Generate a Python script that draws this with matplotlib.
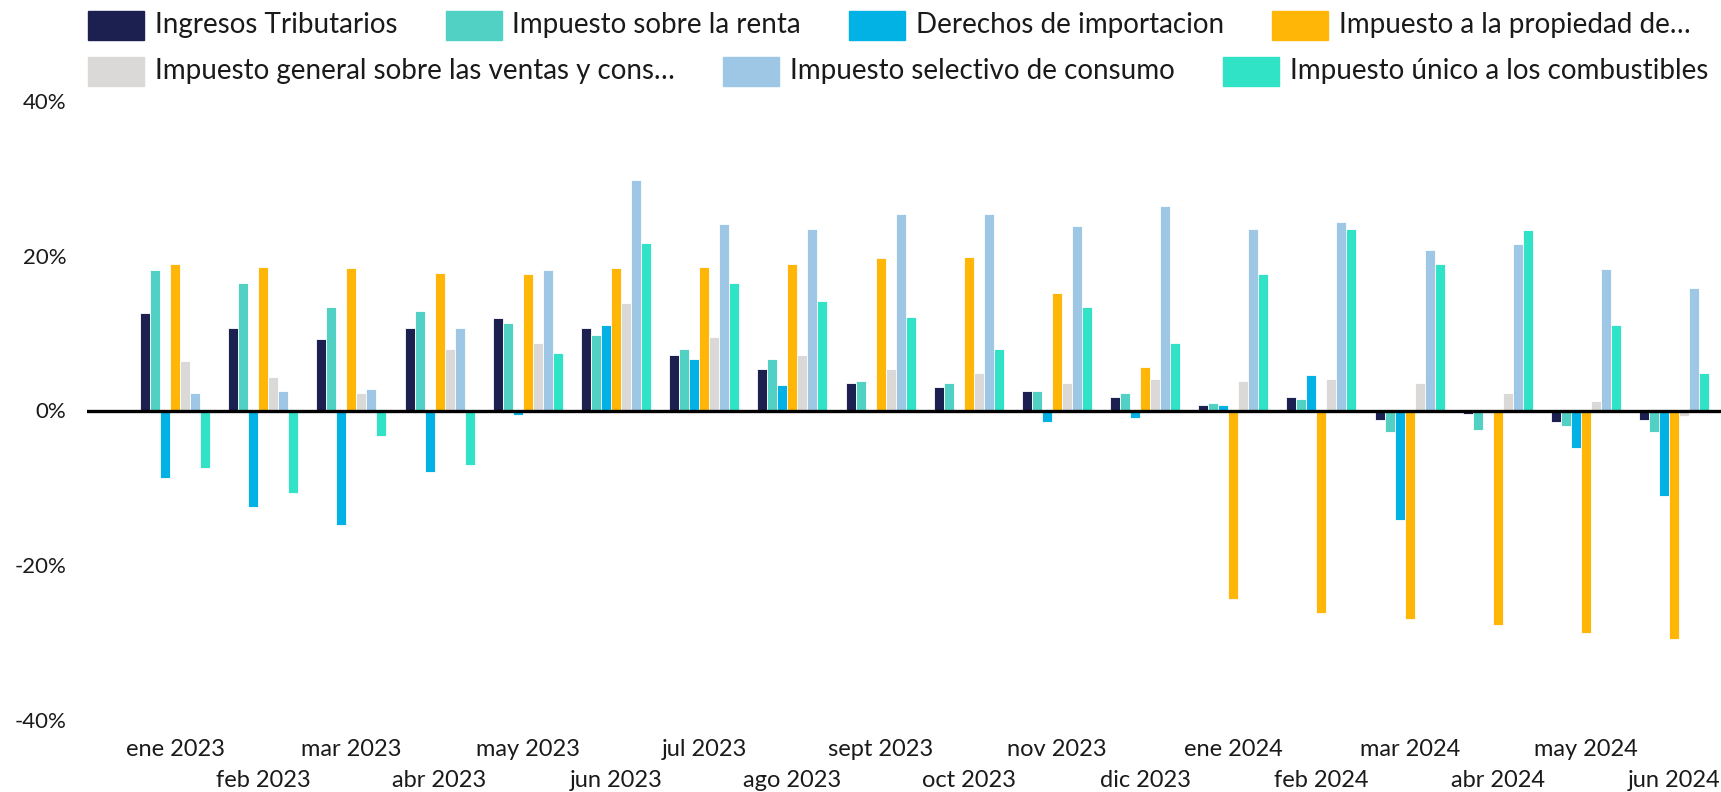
import matplotlib
matplotlib.use("Agg")
import matplotlib.pyplot as plt
from matplotlib.patches import Rectangle
import numpy as np

plt.rcParams['font.family'] = ['Lato', 'DejaVu Sans']

months = ["ene 2023", "feb 2023", "mar 2023", "abr 2023", "may 2023", "jun 2023",
          "jul 2023", "ago 2023", "sept 2023", "oct 2023", "nov 2023", "dic 2023",
          "ene 2024", "feb 2024", "mar 2024", "abr 2024", "may 2024", "jun 2024"]

series_names = ["Ingresos Tributarios", "Impuesto sobre la renta", "Derechos de importacion",
                "Impuesto a la propiedad de…", "Impuesto general sobre las ventas y cons…",
                "Impuesto selectivo de consumo", "Impuesto único a los combustibles"]

ingresos = [12.6, 10.6, 9.3, 10.6, 11.9, 10.6, 7.2, 5.4, 3.55, 3.0, 2.5, 1.7,
            0.7, 1.7, -1.2, -0.5, -1.45, -1.2]
renta = [18.1, 16.5, 13.4, 12.9, 11.3, 9.8, 8.0, 6.7, 3.8, 3.55, 2.5, 2.25,
         0.95, 1.5, -2.75, -2.5, -2.0, -2.75]
derechos = [-8.7, -12.5, -14.8, -7.9, -0.55, 11.1, 6.7, 3.3, 0.0, 0.0, -1.5, -0.95,
            0.7, 4.6, -14.1, 0.0, -4.8, -11.0]
propiedad = [18.9, 18.6, 18.4, 17.8, 17.6, 18.4, 18.6, 18.9, 19.7, 19.9, 15.2, 5.6,
             -24.4, -26.2, -27.0, -27.7, -28.8, -29.5]
ventas = [6.4, 4.3, 2.25, 8.0, 8.7, 13.9, 9.5, 7.2, 5.4, 4.85, 3.55, 4.1,
          3.8, 4.1, 3.55, 2.25, 1.2, -0.7]
selectivo = [2.25, 2.5, 2.8, 10.6, 18.1, 29.8, 24.1, 23.5, 25.4, 25.4, 23.8, 26.4,
             23.5, 24.3, 20.7, 21.5, 18.35, 15.8]
combustibles = [-7.4, -10.7, -3.3, -7.1, 7.4, 21.7, 16.5, 14.2, 12.1, 8.0, 13.4, 8.7,
                17.6, 23.5, 18.9, 23.3, 11.1, 4.85]

yticks = [-40, -20, 0, 20, 40]
ytick_labels = ["-40%", "-20%", "0%", "20%", "40%"]

colors = ["#1b2050", "#51d1c4", "#03b2e5", "#ffb606", "#dad9d7", "#9dc7e5", "#30e3c7"]
data = [ingresos, renta, derechos, propiedad, ventas, selectivo, combustibles]

W, H = 1721, 792
fig = plt.figure(figsize=(W / 100, H / 100), dpi=100)
ax = fig.add_axes([87 / W, 1 - 720 / H, 1 - 87 / W, (720 - 101) / H])

x = np.arange(len(months))
pitch = 0.1134
n = len(data)
for i, (vals, c) in enumerate(zip(data, colors)):
    off = (i - (n - 1) / 2) * pitch
    ax.bar(x + off, vals, width=pitch, color=c, edgecolor="white", linewidth=0.6, zorder=2)

ax.axhline(0, color="black", linewidth=2.4, zorder=3)
ax.set_ylim(-40, 40)
ax.set_xlim(-0.998, 17.53)
ax.set_yticks(yticks)
ax.set_yticklabels(ytick_labels)
# staggered month labels: even months as major ticks, odd months as minor ticks (lower row)
ax.set_xticks(x[::2])
ax.set_xticklabels(months[::2])
ax.set_xticks(x[1::2], minor=True)
ax.set_xticklabels(months[1::2], minor=True)
ax.tick_params(axis="both", which="both", length=0, colors="#1a1a1a")
ax.tick_params(axis="y", pad=15, labelsize=16)
ax.tick_params(axis="x", which="major", pad=14, labelsize=17)
ax.tick_params(axis="x", which="minor", pad=36, labelsize=17)
for s in ax.spines.values():
    s.set_visible(False)

# legend, flowing layout in two rows
fig.canvas.draw()
renderer = fig.canvas.get_renderer()
rows = [[0, 1, 2, 3], [4, 5, 6]]
row_y = [(11, 40), (57, 86)]
for r, idxs in enumerate(rows):
    xpos = 88
    y0, y1 = row_y[r]
    for k in idxs:
        fig.patches.append(Rectangle((xpos / W, 1 - y1 / H), 56 / W, (y1 - y0) / H,
                                     transform=fig.transFigure, color=colors[k]))
        t = fig.text((xpos + 67) / W, 1 - (y0 + y1) / 2 / H, series_names[k],
                     fontsize=20, va="center", ha="left", color="#1a1a1a")
        bb = t.get_window_extent(renderer)
        xpos = xpos + 67 + bb.width + 48

fig.savefig("out.png", dpi=100)
